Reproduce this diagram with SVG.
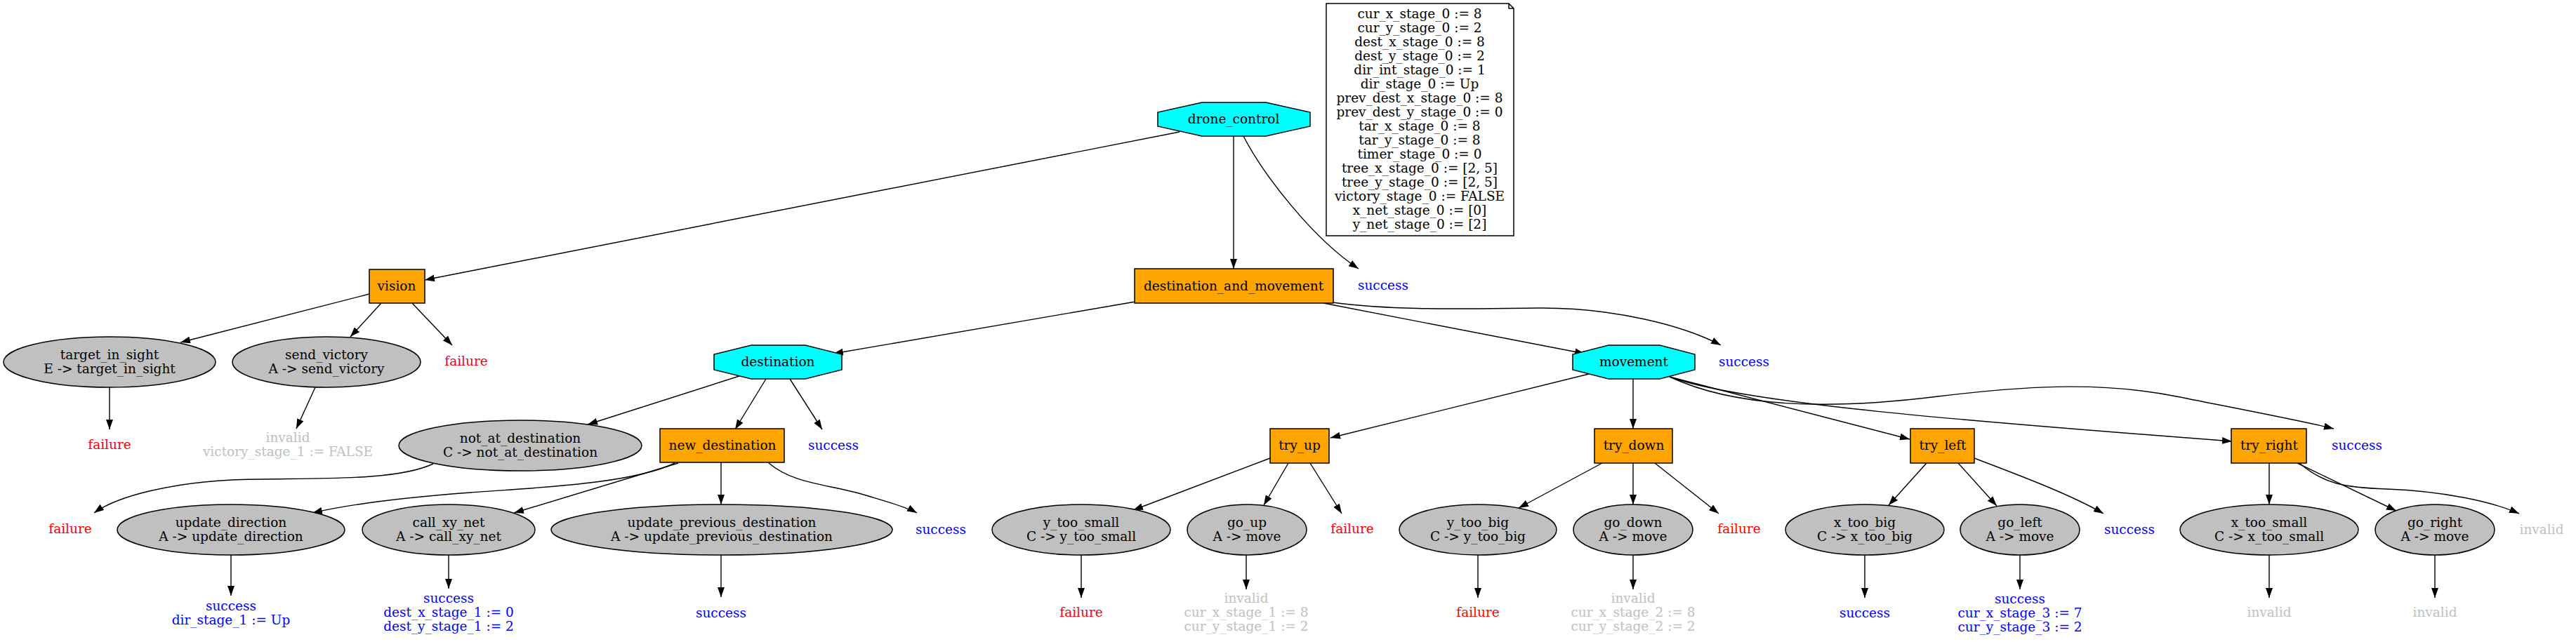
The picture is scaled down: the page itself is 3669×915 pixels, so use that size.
<svg xmlns="http://www.w3.org/2000/svg" width="3669" height="915" viewBox="0 0 3669 915">
<style>
text{font-family:"DejaVu Serif","Liberation Serif",serif;font-size:18.5px;text-anchor:middle;fill:#000}
.box{fill:#FFA500;stroke:#000;stroke-width:1.5}
.oct{fill:#00FFFF;stroke:#000;stroke-width:1.5}
.ell{fill:#C0C0C0;stroke:#000;stroke-width:1.5}
.note{fill:#fff;stroke:#000;stroke-width:1.5}
.e{fill:none;stroke:#000;stroke-width:1.4}
text.s{fill:#0000FF}
text.f{fill:#FF0000}
text.i{fill:#C0C0C0}
</style>
<defs>
<marker id="ah" markerUnits="userSpaceOnUse" markerWidth="14" markerHeight="10" refX="14" refY="5" orient="auto">
<path d="M0,0 L14,5 L0,10 z" fill="#000"/>
</marker>
</defs>
<rect width="3669" height="915" fill="#fff"/>
<g id="connectors" class="edges">
<path class="e" marker-end="url(#ah)" d="M1680,188 L605,399"/>
<path class="e" marker-end="url(#ah)" d="M1757,194 L1757,383"/>
<path class="e" marker-end="url(#ah)" d="M1771,194 C1800,250 1870,340 1935,383"/>
<path class="e" marker-end="url(#ah)" d="M526,419 L257,488"/>
<path class="e" marker-end="url(#ah)" d="M543,432 L499,480"/>
<path class="e" marker-end="url(#ah)" d="M587,432 L644,492"/>
<path class="e" marker-end="url(#ah)" d="M156,552 L156,612"/>
<path class="e" marker-end="url(#ah)" d="M449,552 L422,611"/>
<path class="e" marker-end="url(#ah)" d="M1617,430 L1187,504"/>
<path class="e" marker-end="url(#ah)" d="M1885,432 L2257,504"/>
<path class="e" marker-end="url(#ah)" d="M1898,431 C1990,443 2080,440 2190,439 C2300,438 2400,465 2451,492"/>
<path class="e" marker-end="url(#ah)" d="M1053,536 L837,605"/>
<path class="e" marker-end="url(#ah)" d="M1091,540 L1047,612"/>
<path class="e" marker-end="url(#ah)" d="M1125,540 L1171,612"/>
<path class="e" marker-end="url(#ah)" d="M617,661 C560,688 430,680 330,684 C250,688 170,705 134,731"/>
<path class="e" marker-end="url(#ah)" d="M961,660 C900,690 760,695 670,702 C590,708 500,718 445,731"/>
<path class="e" marker-end="url(#ah)" d="M966,660 L732,731"/>
<path class="e" marker-end="url(#ah)" d="M1027,659 L1027,719"/>
<path class="e" marker-end="url(#ah)" d="M1095,660 C1130,690 1180,690 1230,705 C1260,714 1290,722 1306,731"/>
<path class="e" marker-end="url(#ah)" d="M329,791 L329,849"/>
<path class="e" marker-end="url(#ah)" d="M639,791 L639,839"/>
<path class="e" marker-end="url(#ah)" d="M1027,791 L1027,851"/>
<path class="e" marker-end="url(#ah)" d="M2263,533 L1895,624"/>
<path class="e" marker-end="url(#ah)" d="M2326,540 L2326,611"/>
<path class="e" marker-end="url(#ah)" d="M2378,537 L2720,626"/>
<path class="e" marker-end="url(#ah)" d="M2378,537 C2480,575 2800,600 3179,629"/>
<path class="e" marker-end="url(#ah)" d="M2378,537 C2470,580 2600,585 2760,565 C2900,548 3000,545 3100,565 C3200,585 3280,600 3324,611"/>
<path class="e" marker-end="url(#ah)" d="M1809,653 L1614,727"/>
<path class="e" marker-end="url(#ah)" d="M1835,660 L1800,720"/>
<path class="e" marker-end="url(#ah)" d="M1866,660 L1911,732"/>
<path class="e" marker-end="url(#ah)" d="M1540,791 L1540,852"/>
<path class="e" marker-end="url(#ah)" d="M1775,791 L1775,840"/>
<path class="e" marker-end="url(#ah)" d="M2282,660 L2163,724"/>
<path class="e" marker-end="url(#ah)" d="M2326,660 L2326,719"/>
<path class="e" marker-end="url(#ah)" d="M2357,660 L2448,732"/>
<path class="e" marker-end="url(#ah)" d="M2105,791 L2105,852"/>
<path class="e" marker-end="url(#ah)" d="M2326,791 L2326,840"/>
<path class="e" marker-end="url(#ah)" d="M2744,660 L2690,720"/>
<path class="e" marker-end="url(#ah)" d="M2789,660 L2844,721"/>
<path class="e" marker-end="url(#ah)" d="M2812,653 C2870,675 2950,705 2996,732"/>
<path class="e" marker-end="url(#ah)" d="M3232,660 L3232,719"/>
<path class="e" marker-end="url(#ah)" d="M3272,660 L3413,728"/>
<path class="e" marker-end="url(#ah)" d="M3275,660 C3310,690 3340,695 3400,697 C3480,700 3550,715 3588,732"/>
<path class="e" marker-end="url(#ah)" d="M2656,791 L2656,852"/>
<path class="e" marker-end="url(#ah)" d="M2877,791 L2877,840"/>
<path class="e" marker-end="url(#ah)" d="M3232,791 L3232,852"/>
<path class="e" marker-end="url(#ah)" d="M3468,791 L3468,852"/>
</g>
<g id="drone_control">
<polygon class="oct" points="1712,146 1803,146 1866,160 1866,180 1803,194 1712,194 1649,180 1649,160"/>
<text x="1757" y="176">drone_control</text>
</g>
<g id="state_note">
<path class="note" d="M1889,5 L2149,5 L2156,12 L2156,336 L1889,336 Z M2149,5 L2149,12 L2156,12"/>
<text x="2022" y="26">cur_x_stage_0 := 8</text>
<text x="2022" y="46">cur_y_stage_0 := 2</text>
<text x="2022" y="66">dest_x_stage_0 := 8</text>
<text x="2022" y="86">dest_y_stage_0 := 2</text>
<text x="2022" y="106">dir_int_stage_0 := 1</text>
<text x="2022" y="126">dir_stage_0 := Up</text>
<text x="2022" y="146">prev_dest_x_stage_0 := 8</text>
<text x="2022" y="166">prev_dest_y_stage_0 := 0</text>
<text x="2022" y="186">tar_x_stage_0 := 8</text>
<text x="2022" y="206">tar_y_stage_0 := 8</text>
<text x="2022" y="226">timer_stage_0 := 0</text>
<text x="2022" y="246">tree_x_stage_0 := [2, 5]</text>
<text x="2022" y="266">tree_y_stage_0 := [2, 5]</text>
<text x="2022" y="286">victory_stage_0 := FALSE</text>
<text x="2022" y="306">x_net_stage_0 := [0]</text>
<text x="2022" y="326">y_net_stage_0 := [2]</text>
</g>
<g id="dc_success"><text class="s" x="1970" y="413">success</text></g>
<g id="vision">
<rect class="box" x="526" y="384" width="79" height="48"/>
<text x="565" y="414">vision</text>
</g>
<g id="destination_and_movement">
<rect class="box" x="1616" y="383" width="283" height="49"/>
<text x="1757" y="414">destination_and_movement</text>
</g>
<g id="target_in_sight">
<ellipse class="ell" cx="156" cy="516" rx="151" ry="36"/>
<text x="156" y="512">target_in_sight</text>
<text x="156" y="532">E -&gt; target_in_sight</text>
</g>
<g id="send_victory">
<ellipse class="ell" cx="465" cy="516" rx="134" ry="36"/>
<text x="465" y="512">send_victory</text>
<text x="465" y="532">A -&gt; send_victory</text>
</g>
<g id="vision_failure"><text class="f" x="664" y="521">failure</text></g>
<g id="tis_failure"><text class="f" x="156" y="640">failure</text></g>
<g id="sv_invalid">
<text class="i" x="410" y="630">invalid</text>
<text class="i" x="410" y="650">victory_stage_1 := FALSE</text>
</g>
<g id="destination">
<polygon class="oct" points="1070,492 1147,492 1199,505 1199,527 1147,540 1070,540 1017,527 1017,505"/>
<text x="1108" y="522">destination</text>
</g>
<g id="movement">
<polygon class="oct" points="2291,492 2364,492 2414,505 2414,527 2364,540 2291,540 2240,527 2240,505"/>
<text x="2327" y="522">movement</text>
</g>
<g id="dam_success"><text class="s" x="2484" y="522">success</text></g>
<g id="not_at_destination">
<ellipse class="ell" cx="741" cy="635" rx="173" ry="36"/>
<text x="741" y="631">not_at_destination</text>
<text x="741" y="651">C -&gt; not_at_destination</text>
</g>
<g id="new_destination">
<rect class="box" x="940" y="611" width="177" height="48"/>
<text x="1029" y="641">new_destination</text>
</g>
<g id="dest_success"><text class="s" x="1187" y="641">success</text></g>
<g id="nad_failure"><text class="f" x="100" y="760">failure</text></g>
<g id="update_direction">
<ellipse class="ell" cx="329" cy="755" rx="162" ry="36"/>
<text x="329" y="751">update_direction</text>
<text x="329" y="771">A -&gt; update_direction</text>
</g>
<g id="call_xy_net">
<ellipse class="ell" cx="639" cy="755" rx="123" ry="36"/>
<text x="639" y="751">call_xy_net</text>
<text x="639" y="771">A -&gt; call_xy_net</text>
</g>
<g id="update_previous_destination">
<ellipse class="ell" cx="1028" cy="755" rx="243" ry="36"/>
<text x="1028" y="751">update_previous_destination</text>
<text x="1028" y="771">A -&gt; update_previous_destination</text>
</g>
<g id="nd_success"><text class="s" x="1340" y="761">success</text></g>
<g id="ud_success">
<text class="s" x="329" y="870">success</text>
<text class="s" x="329" y="890">dir_stage_1 := Up</text>
</g>
<g id="cxn_success">
<text class="s" x="639" y="859">success</text>
<text class="s" x="639" y="879">dest_x_stage_1 := 0</text>
<text class="s" x="639" y="899">dest_y_stage_1 := 2</text>
</g>
<g id="upd_success"><text class="s" x="1027" y="880">success</text></g>
<g id="try_up">
<rect class="box" x="1809" y="611" width="84" height="49"/>
<text x="1851" y="641">try_up</text>
</g>
<g id="try_down">
<rect class="box" x="2271" y="611" width="111" height="49"/>
<text x="2327" y="641">try_down</text>
</g>
<g id="try_left">
<rect class="box" x="2721" y="611" width="91" height="49"/>
<text x="2767" y="641">try_left</text>
</g>
<g id="try_right">
<rect class="box" x="3178" y="611" width="107" height="49"/>
<text x="3232" y="641">try_right</text>
</g>
<g id="mv_success"><text class="s" x="3357" y="641">success</text></g>
<g id="y_too_small">
<ellipse class="ell" cx="1540" cy="755" rx="127" ry="36"/>
<text x="1540" y="751">y_too_small</text>
<text x="1540" y="771">C -&gt; y_too_small</text>
</g>
<g id="go_up">
<ellipse class="ell" cx="1776" cy="755" rx="85" ry="36"/>
<text x="1776" y="751">go_up</text>
<text x="1776" y="771">A -&gt; move</text>
</g>
<g id="tu_failure"><text class="f" x="1926" y="760">failure</text></g>
<g id="y_too_big">
<ellipse class="ell" cx="2105" cy="755" rx="112" ry="36"/>
<text x="2105" y="751">y_too_big</text>
<text x="2105" y="771">C -&gt; y_too_big</text>
</g>
<g id="go_down">
<ellipse class="ell" cx="2326" cy="755" rx="85" ry="36"/>
<text x="2326" y="751">go_down</text>
<text x="2326" y="771">A -&gt; move</text>
</g>
<g id="td_failure"><text class="f" x="2477" y="760">failure</text></g>
<g id="x_too_big">
<ellipse class="ell" cx="2656" cy="755" rx="113" ry="36"/>
<text x="2656" y="751">x_too_big</text>
<text x="2656" y="771">C -&gt; x_too_big</text>
</g>
<g id="go_left">
<ellipse class="ell" cx="2877" cy="755" rx="85" ry="36"/>
<text x="2877" y="751">go_left</text>
<text x="2877" y="771">A -&gt; move</text>
</g>
<g id="tl_success"><text class="s" x="3033" y="761">success</text></g>
<g id="x_too_small">
<ellipse class="ell" cx="3232" cy="755" rx="127" ry="36"/>
<text x="3232" y="751">x_too_small</text>
<text x="3232" y="771">C -&gt; x_too_small</text>
</g>
<g id="go_right">
<ellipse class="ell" cx="3468" cy="755" rx="85" ry="36"/>
<text x="3468" y="751">go_right</text>
<text x="3468" y="771">A -&gt; move</text>
</g>
<g id="tr_invalid"><text class="i" x="3620" y="761">invalid</text></g>
<g id="yts_failure"><text class="f" x="1540" y="879">failure</text></g>
<g id="gu_invalid">
<text class="i" x="1775" y="859">invalid</text>
<text class="i" x="1775" y="879">cur_x_stage_1 := 8</text>
<text class="i" x="1775" y="899">cur_y_stage_1 := 2</text>
</g>
<g id="ytb_failure"><text class="f" x="2105" y="879">failure</text></g>
<g id="gd_invalid">
<text class="i" x="2326" y="859">invalid</text>
<text class="i" x="2326" y="879">cur_x_stage_2 := 8</text>
<text class="i" x="2326" y="899">cur_y_stage_2 := 2</text>
</g>
<g id="xtb_success"><text class="s" x="2656" y="880">success</text></g>
<g id="gl_success">
<text class="s" x="2877" y="860">success</text>
<text class="s" x="2877" y="880">cur_x_stage_3 := 7</text>
<text class="s" x="2877" y="900">cur_y_stage_3 := 2</text>
</g>
<g id="xts_invalid"><text class="i" x="3232" y="879">invalid</text></g>
<g id="gr_invalid"><text class="i" x="3468" y="879">invalid</text></g>
</svg>
